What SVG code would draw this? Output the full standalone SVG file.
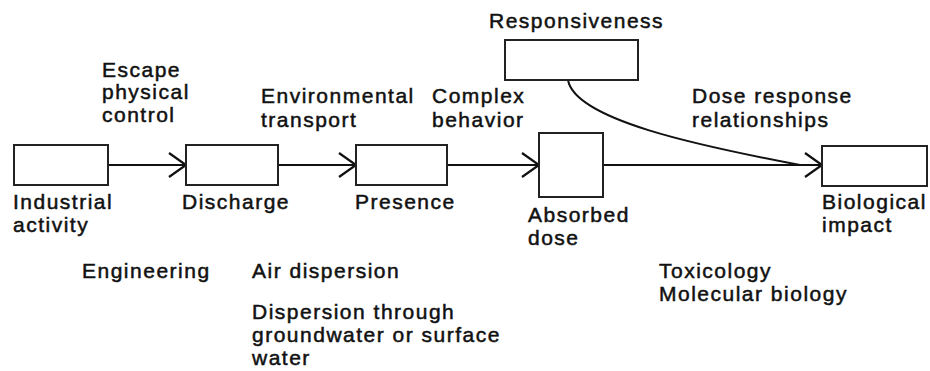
<svg xmlns="http://www.w3.org/2000/svg" width="930" height="371" viewBox="0 0 930 371">
<style>
  text { font-family: "Liberation Sans", Arial, sans-serif; font-size: 21px; letter-spacing: 1.5px; fill: #111; stroke: #111; stroke-width: 0.5; }
  .box { fill: #fff; stroke: #222; stroke-width: 2; }
  .conn { fill: none; stroke: #111; stroke-width: 2; }
</style>
<defs>
  <marker id="chev" markerUnits="userSpaceOnUse" viewBox="0 0 20 28" refX="18" refY="14" markerWidth="20" markerHeight="28" orient="auto">
    <path d="M1,2 L18,14 L1,26" fill="none" stroke="#111" stroke-width="2.2"/>
  </marker>
</defs>
<rect width="930" height="371" fill="#fff"/>

<g id="connectors">
  <path class="conn" d="M108,165 H186" marker-end="url(#chev)"/>
  <path class="conn" d="M278,165 H356" marker-end="url(#chev)"/>
  <path class="conn" d="M447,165 H539" marker-end="url(#chev)"/>
  <path class="conn" d="M603,165 H822" marker-end="url(#chev)"/>
  <path class="conn" d="M568,80 C575,120 700,146 800,165"/>
</g>

<g id="industrial">
  <rect class="box" x="14" y="145" width="94" height="40"/>
  <text x="13" y="209">Industrial</text>
  <text x="13" y="232">activity</text>
</g>
<g id="discharge">
  <rect class="box" x="186" y="145" width="92" height="40"/>
  <text x="182" y="209">Discharge</text>
</g>
<g id="presence">
  <rect class="box" x="356" y="145" width="91" height="40"/>
  <text x="355" y="209">Presence</text>
</g>
<g id="absorbed">
  <rect class="box" x="539" y="133" width="64" height="64"/>
  <text x="528" y="222">Absorbed</text>
  <text x="528" y="245">dose</text>
</g>
<g id="biological">
  <rect class="box" x="822" y="146" width="105" height="40"/>
  <text x="822" y="209">Biological</text>
  <text x="822" y="232">impact</text>
</g>
<g id="responsiveness">
  <rect class="box" x="505" y="40" width="133" height="40"/>
  <text x="489" y="28">Responsiveness</text>
</g>

<g id="labels">
  <text x="102" y="77">Escape</text>
  <text x="102" y="99">physical</text>
  <text x="102" y="122">control</text>
  <text x="261" y="103">Environmental</text>
  <text x="261" y="127">transport</text>
  <text x="432" y="103">Complex</text>
  <text x="432" y="127">behavior</text>
  <text x="692" y="103">Dose response</text>
  <text x="692" y="127">relationships</text>
  <text x="82" y="278">Engineering</text>
  <text x="252" y="278">Air dispersion</text>
  <text x="252" y="319">Dispersion through</text>
  <text x="252" y="342">groundwater or surface</text>
  <text x="252" y="365">water</text>
  <text x="659" y="278">Toxicology</text>
  <text x="659" y="301">Molecular biology</text>
</g>
</svg>
